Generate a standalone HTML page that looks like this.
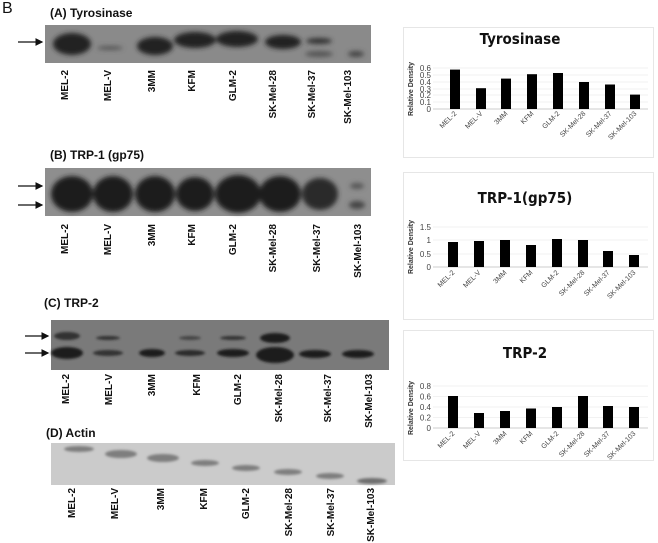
<!DOCTYPE html>
<html><head><meta charset="utf-8"><style>
html,body{margin:0;padding:0;background:#fff;}
svg{display:block;font-family:"Liberation Sans",Arial,sans-serif;}
.lab{font-size:10px;font-weight:bold;fill:#111;}
.ttl{font-size:12px;font-weight:bold;fill:#111;}
.ct{font-size:15px;font-weight:bold;fill:#111;font-family:"DejaVu Sans Condensed","Liberation Sans",sans-serif;}
.tk{font-size:8px;fill:#444;}
.xl{font-size:7px;fill:#444;}
.yt{font-size:7px;font-weight:bold;fill:#333;}
</style></head><body>
<svg width="658" height="543" viewBox="0 0 658 543" xmlns="http://www.w3.org/2000/svg">
<defs>
<filter id="bl" x="-30%" y="-60%" width="160%" height="220%"><feGaussianBlur stdDeviation="2.5"/></filter>
<filter id="bs" x="-30%" y="-60%" width="160%" height="220%"><feGaussianBlur stdDeviation="1.3"/></filter>
<marker id="ah" markerWidth="6" markerHeight="6" refX="5" refY="3" orient="auto"><path d="M0,0 L6,3 L0,6 z" fill="#111"/></marker>
</defs>
<text x="2" y="13" font-size="16" fill="#111">B</text>

<!-- A -->
<text x="50" y="17" class="ttl">(A) Tyrosinase</text>
<rect x="45" y="25" width="326" height="38" fill="#8a8a8a"/>
<g filter="url(#bl)" fill="#222">
<ellipse cx="72" cy="44" rx="19" ry="11"/>
<ellipse cx="110" cy="48" rx="13" ry="2" fill="#555"/>
<ellipse cx="155" cy="46" rx="18" ry="9"/>
<ellipse cx="195" cy="40" rx="21" ry="8"/>
<ellipse cx="237" cy="39" rx="21" ry="8"/>
<ellipse cx="283" cy="42" rx="18" ry="7"/>
<ellipse cx="319" cy="41" rx="13" ry="3" fill="#333"/>
<ellipse cx="319" cy="54" rx="14" ry="3" fill="#555"/>
<ellipse cx="356" cy="54" rx="8" ry="3" fill="#444"/>
</g>
<line x1="18" y1="42" x2="42" y2="42" stroke="#111" stroke-width="1.3" marker-end="url(#ah)"/>

<!-- B -->
<text x="50" y="159" class="ttl">(B) TRP-1 (gp75)</text>
<rect x="45" y="168" width="326" height="48" fill="#8e8e8e"/>
<g filter="url(#bl)" fill="#1e1e1e">
<ellipse cx="72" cy="194" rx="21" ry="18"/>
<ellipse cx="113" cy="194" rx="20" ry="18"/>
<ellipse cx="155" cy="194" rx="20" ry="18"/>
<ellipse cx="195" cy="194" rx="19" ry="17"/>
<ellipse cx="238" cy="194" rx="23" ry="19"/>
<ellipse cx="280" cy="194" rx="21" ry="18"/>
<ellipse cx="320" cy="194" rx="18" ry="16" fill="#2a2a2a"/>
<ellipse cx="357" cy="186" rx="7" ry="3" fill="#555"/>
<ellipse cx="357" cy="205" rx="8" ry="4" fill="#444"/>
</g>
<line x1="18" y1="186" x2="42" y2="186" stroke="#111" stroke-width="1.3" marker-end="url(#ah)"/>
<line x1="18" y1="205" x2="42" y2="205" stroke="#111" stroke-width="1.3" marker-end="url(#ah)"/>

<!-- C -->
<text x="44" y="307" class="ttl">(C) TRP-2</text>
<rect x="51" y="320" width="338" height="50" fill="#7a7a7a"/>
<g filter="url(#bs)" fill="#1e1e1e">
<ellipse cx="67" cy="336" rx="13" ry="4" fill="#333"/>
<ellipse cx="67" cy="353" rx="16" ry="6"/>
<ellipse cx="108" cy="338" rx="12" ry="2" fill="#333"/>
<ellipse cx="108" cy="353" rx="15" ry="3" fill="#333"/>
<ellipse cx="152" cy="353" rx="13" ry="4"/>
<ellipse cx="190" cy="338" rx="11" ry="2" fill="#444"/>
<ellipse cx="190" cy="353" rx="15" ry="3" fill="#2a2a2a"/>
<ellipse cx="233" cy="338" rx="13" ry="2" fill="#333"/>
<ellipse cx="233" cy="353" rx="16" ry="4"/>
<ellipse cx="275" cy="338" rx="15" ry="5"/>
<ellipse cx="275" cy="355" rx="19" ry="8"/>
<ellipse cx="315" cy="354" rx="16" ry="4"/>
<ellipse cx="358" cy="354" rx="16" ry="4"/>
</g>
<line x1="25" y1="336" x2="48" y2="336" stroke="#111" stroke-width="1.3" marker-end="url(#ah)"/>
<line x1="25" y1="353" x2="48" y2="353" stroke="#111" stroke-width="1.3" marker-end="url(#ah)"/>

<!-- D -->
<text x="46" y="437" class="ttl">(D) Actin</text>
<rect x="51" y="443" width="344" height="42" fill="#cbcbcb"/>
<g filter="url(#bs)" fill="#7e7e7e">
<ellipse cx="79" cy="449" rx="15" ry="3"/>
<ellipse cx="121" cy="454" rx="16" ry="4"/>
<ellipse cx="163" cy="458" rx="16" ry="4"/>
<ellipse cx="205" cy="463" rx="14" ry="3"/>
<ellipse cx="246" cy="468" rx="14" ry="3"/>
<ellipse cx="288" cy="472" rx="14" ry="3"/>
<ellipse cx="330" cy="476" rx="14" ry="3"/>
<ellipse cx="372" cy="481" rx="15" ry="3" fill="#6e6e6e"/>
</g>

<!-- lane labels -->
<g class="lab" text-anchor="end">
<text transform="translate(68,70) rotate(-90)">MEL-2</text>
<text transform="translate(111,70) rotate(-90)">MEL-V</text>
<text transform="translate(155,70) rotate(-90)">3MM</text>
<text transform="translate(195,70) rotate(-90)">KFM</text>
<text transform="translate(236,70) rotate(-90)">GLM-2</text>
<text transform="translate(276,70) rotate(-90)">SK-Mel-28</text>
<text transform="translate(315,70) rotate(-90)">SK-Mel-37</text>
<text transform="translate(351,70) rotate(-90)">SK-Mel-103</text>

<text transform="translate(68,224) rotate(-90)">MEL-2</text>
<text transform="translate(111,224) rotate(-90)">MEL-V</text>
<text transform="translate(155,224) rotate(-90)">3MM</text>
<text transform="translate(195,224) rotate(-90)">KFM</text>
<text transform="translate(236,224) rotate(-90)">GLM-2</text>
<text transform="translate(276,224) rotate(-90)">SK-Mel-28</text>
<text transform="translate(320,224) rotate(-90)">SK-Mel-37</text>
<text transform="translate(361,224) rotate(-90)">SK-Mel-103</text>

<text transform="translate(69,374) rotate(-90)">MEL-2</text>
<text transform="translate(112,374) rotate(-90)">MEL-V</text>
<text transform="translate(155,374) rotate(-90)">3MM</text>
<text transform="translate(200,374) rotate(-90)">KFM</text>
<text transform="translate(241,374) rotate(-90)">GLM-2</text>
<text transform="translate(282,374) rotate(-90)">SK-Mel-28</text>
<text transform="translate(331,374) rotate(-90)">SK-Mel-37</text>
<text transform="translate(372,374) rotate(-90)">SK-Mel-103</text>

<text transform="translate(75,488) rotate(-90)">MEL-2</text>
<text transform="translate(118,488) rotate(-90)">MEL-V</text>
<text transform="translate(164,488) rotate(-90)">3MM</text>
<text transform="translate(207,488) rotate(-90)">KFM</text>
<text transform="translate(249,488) rotate(-90)">GLM-2</text>
<text transform="translate(292,488) rotate(-90)">SK-Mel-28</text>
<text transform="translate(334,488) rotate(-90)">SK-Mel-37</text>
<text transform="translate(374,488) rotate(-90)">SK-Mel-103</text>
</g>

<!-- chart 1 -->
<rect x="403.5" y="27.5" width="250" height="130" fill="#fff" stroke="#e6e6e6"/>
<text x="520" y="44" class="ct" text-anchor="middle">Tyrosinase</text>
<g stroke="#eee" stroke-width="0.7">
<line x1="433" y1="68" x2="648" y2="68"/><line x1="433" y1="75" x2="648" y2="75"/><line x1="433" y1="82" x2="648" y2="82"/><line x1="433" y1="89" x2="648" y2="89"/><line x1="433" y1="95" x2="648" y2="95"/><line x1="433" y1="102" x2="648" y2="102"/>
</g>
<line x1="433" y1="109" x2="648" y2="109" stroke="#ccc"/>
<g class="tk" text-anchor="end">
<text x="431" y="71">0.6</text><text x="431" y="78">0.5</text><text x="431" y="85">0.4</text><text x="431" y="92">0.3</text><text x="431" y="98">0.2</text><text x="431" y="105">0.1</text><text x="431" y="112">0</text>
</g>
<text class="yt" transform="translate(413,89) rotate(-90)" text-anchor="middle">Relative Density</text>
<g fill="#000">
<rect x="450" y="69.6" width="10" height="39.4"/>
<rect x="476" y="88.2" width="10" height="20.8"/>
<rect x="501" y="78.6" width="10" height="30.4"/>
<rect x="527" y="74.2" width="10" height="34.8"/>
<rect x="553" y="73" width="10" height="36"/>
<rect x="579" y="82" width="10" height="27"/>
<rect x="605" y="84.5" width="10" height="24.5"/>
<rect x="630" y="94.6" width="10" height="14.4"/>
</g>
<g class="xl" text-anchor="end">
<text transform="translate(457,114) rotate(-45)">MEL-2</text>
<text transform="translate(483,114) rotate(-45)">MEL-V</text>
<text transform="translate(508,114) rotate(-45)">3MM</text>
<text transform="translate(534,114) rotate(-45)">KFM</text>
<text transform="translate(560,114) rotate(-45)">GLM-2</text>
<text transform="translate(586,114) rotate(-45)">SK-Mel-28</text>
<text transform="translate(612,114) rotate(-45)">SK-Mel-37</text>
<text transform="translate(637,114) rotate(-45)">SK-Mel-103</text>
</g>

<!-- chart 2 -->
<rect x="403.5" y="172.5" width="250" height="147" fill="#fff" stroke="#e6e6e6"/>
<text x="525" y="203" class="ct" text-anchor="middle">TRP-1(gp75)</text>
<g stroke="#eee" stroke-width="0.7">
<line x1="433" y1="227" x2="648" y2="227"/><line x1="433" y1="240" x2="648" y2="240"/><line x1="433" y1="254" x2="648" y2="254"/>
</g>
<line x1="433" y1="267" x2="648" y2="267" stroke="#ccc"/>
<g class="tk" text-anchor="end">
<text x="431" y="230">1.5</text><text x="431" y="243">1</text><text x="431" y="257">0.5</text><text x="431" y="270">0</text>
</g>
<text class="yt" transform="translate(413,247) rotate(-90)" text-anchor="middle">Relative Density</text>
<g fill="#000">
<rect x="448" y="242" width="10" height="25"/>
<rect x="474" y="241" width="10" height="26"/>
<rect x="500" y="240" width="10" height="27"/>
<rect x="526" y="245" width="10" height="22"/>
<rect x="552" y="239" width="10" height="28"/>
<rect x="578" y="240" width="10" height="27"/>
<rect x="603" y="251" width="10" height="16"/>
<rect x="629" y="255" width="10" height="12"/>
</g>
<g class="xl" text-anchor="end">
<text transform="translate(455,273) rotate(-45)">MEL-2</text>
<text transform="translate(481,273) rotate(-45)">MEL-V</text>
<text transform="translate(507,273) rotate(-45)">3MM</text>
<text transform="translate(533,273) rotate(-45)">KFM</text>
<text transform="translate(559,273) rotate(-45)">GLM-2</text>
<text transform="translate(585,273) rotate(-45)">SK-Mel-28</text>
<text transform="translate(610,273) rotate(-45)">SK-Mel-37</text>
<text transform="translate(636,273) rotate(-45)">SK-Mel-103</text>
</g>

<!-- chart 3 -->
<rect x="403.5" y="330.5" width="250" height="130" fill="#fff" stroke="#e6e6e6"/>
<text x="525" y="358" class="ct" text-anchor="middle">TRP-2</text>
<g stroke="#eee" stroke-width="0.7">
<line x1="433" y1="386" x2="648" y2="386"/><line x1="433" y1="396.5" x2="648" y2="396.5"/><line x1="433" y1="407" x2="648" y2="407"/><line x1="433" y1="417.5" x2="648" y2="417.5"/>
</g>
<line x1="433" y1="428" x2="648" y2="428" stroke="#ccc"/>
<g class="tk" text-anchor="end">
<text x="431" y="389">0.8</text><text x="431" y="399.5">0.6</text><text x="431" y="410">0.4</text><text x="431" y="420.5">0.2</text><text x="431" y="431">0</text>
</g>
<text class="yt" transform="translate(413,408) rotate(-90)" text-anchor="middle">Relative Density</text>
<g fill="#000">
<rect x="448" y="396" width="10" height="32"/>
<rect x="474" y="413" width="10" height="15"/>
<rect x="500" y="411" width="10" height="17"/>
<rect x="526" y="408.5" width="10" height="19.5"/>
<rect x="552" y="407" width="10" height="21"/>
<rect x="578" y="396" width="10" height="32"/>
<rect x="603" y="406" width="10" height="22"/>
<rect x="629" y="407" width="10" height="21"/>
</g>
<g class="xl" text-anchor="end">
<text transform="translate(455,434) rotate(-45)">MEL-2</text>
<text transform="translate(481,434) rotate(-45)">MEL-V</text>
<text transform="translate(507,434) rotate(-45)">3MM</text>
<text transform="translate(533,434) rotate(-45)">KFM</text>
<text transform="translate(559,434) rotate(-45)">GLM-2</text>
<text transform="translate(585,434) rotate(-45)">SK-Mel-28</text>
<text transform="translate(610,434) rotate(-45)">SK-Mel-37</text>
<text transform="translate(636,434) rotate(-45)">SK-Mel-103</text>
</g>
</svg>
</body></html>
